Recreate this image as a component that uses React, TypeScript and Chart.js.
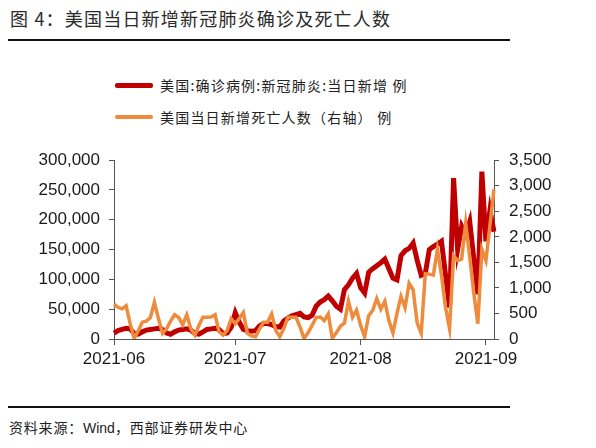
import React, { useEffect, useRef } from "react";
import { Chart, registerables } from "chart.js";

Chart.register(...registerables);

// Dates: 2021-06-01 .. 2021-09-03 (daily)
const dates: string[] = (() => {
  const out: string[] = [];
  const start = Date.UTC(2021, 5, 1);
  for (let i = 0; i < 95; i++) {
    out.push(new Date(start + i * 86400000).toISOString().slice(0, 10));
  }
  return out;
})();

const monthTicks = ["2021-06-01", "2021-07-01", "2021-08-01", "2021-09-01"];

// 美国:确诊病例:新冠肺炎:当日新增 (例), left axis
const newCases = [
  10000, 14000, 16000, 18000, 17000, 9000, 8000, 12000, 15000, 16000,
  17000, 18000, 16000, 10000, 8000, 12000, 15000, 16000, 17000, 15000,
  9000, 8000, 12000, 16000, 17000, 18000, 16000, 9000, 10000, 20000,
  44000, 28000, 16000, 14000, 13000, 14000, 22000, 26000, 26000, 24000,
  21000, 20000, 30000, 35000, 39000, 41000, 43000, 37000, 36000, 40000,
  55000, 62000, 66000, 72000, 64000, 55000, 50000, 83000, 91000, 102000,
  110000, 86000, 77000, 112000, 118000, 123000, 128000, 134000, 118000, 102000,
  99000, 140000, 148000, 152000, 161000, 132000, 107000, 110000, 150000, 155000,
  159000, 164000, 108000, 53000, 270000, 150000, 189000, 175000, 197000, 135000,
  75000, 281000, 164000, 216000, 180000,
];

// 美国当日新增死亡人数 (右轴)
const newDeaths = [
  680, 620, 590, 650, 300, 10, 160, 330, 350, 420,
  720, 400, 110, 200, 350, 475, 420, 280, 475, 200,
  75, 265, 425, 425, 430, 475, 140, 75, 170, 395,
  300, 400, 520, 110, 60, 45, 200, 330, 330, 490,
  170, 45, 200, 425, 425, 425, 240, 10, 120, 265,
  420, 430, 360, 490, 15, 120, 250, 310, 740, 425,
  565, 265, 45, 455, 560, 790, 585, 740, 360, 120,
  500, 835, 615, 1090, 965, 310, 110, 1280, 1270, 1250,
  1755, 1250, 615, 205, 1630, 1535, 1565, 2265, 1600, 900,
  300, 1755, 1535, 2230, 2930,
];

const seriesNames = ["美国:确诊病例:新冠肺炎:当日新增 例", "美国当日新增死亡人数（右轴） 例"];
const seriesColors = ["#C00000", "#EE8B3C"];

const fmt = (v: number) => String(Math.round(v)).replace(/\B(?=(\d{3})+(?!\d))/g, ",");

const TICK_FONT = { family: "'Liberation Sans', Arial, sans-serif", size: 17 };
const AXIS_COLOR = "#555555";

export default function App() {
  const ref = useRef<HTMLCanvasElement | null>(null);

  useEffect(() => {
    if (!ref.current) return;
    const chart = new Chart(ref.current, {
      type: "line",
      data: {
        labels: dates,
        datasets: [
          {
            label: seriesNames[0],
            data: newCases,
            borderColor: seriesColors[0],
            backgroundColor: seriesColors[0],
            borderWidth: 5,
            pointRadius: 0,
            tension: 0,
            yAxisID: "y",
            order: 2,
          },
          {
            label: seriesNames[1],
            data: newDeaths,
            borderColor: seriesColors[1],
            backgroundColor: seriesColors[1],
            borderWidth: 3.5,
            pointRadius: 0,
            tension: 0,
            yAxisID: "y1",
            order: 1,
          },
        ],
      },
      options: {
        animation: false,
        responsive: true,
        maintainAspectRatio: false,
        layout: { padding: { top: 15, left: 0, right: 0, bottom: 0 } },
        plugins: { legend: { display: false }, tooltip: { enabled: false }, title: { display: false } },
        scales: {
          x: {
            type: "category",
            offset: false,
            afterBuildTicks: (scale: any) => {
              scale.ticks = scale.ticks.filter((t: any) => monthTicks.includes(dates[t.value]));
            },
            afterFit: (scale: any) => {
              scale.height = 37;
            },
            ticks: {
              autoSkip: false,
              maxRotation: 0,
              minRotation: 0,
              padding: 4,
              color: "#1a1a1a",
              font: TICK_FONT,
              callback: function (this: any, value: any) {
                return String(this.getLabelForValue(value)).slice(0, 7);
              },
            },
            grid: { drawOnChartArea: false, drawTicks: true, tickLength: 6, color: AXIS_COLOR },
            border: { display: true, color: AXIS_COLOR, width: 1 },
          },
          y: {
            position: "left",
            min: 0,
            max: 300000,
            afterFit: (scale: any) => {
              scale.width = 114;
            },
            ticks: {
              stepSize: 50000,
              padding: 9,
              color: "#1a1a1a",
              font: TICK_FONT,
              callback: (v: any) => fmt(Number(v)),
            },
            grid: { drawOnChartArea: false, drawTicks: true, tickLength: 5, color: AXIS_COLOR },
            border: { display: true, color: AXIS_COLOR, width: 1 },
          },
          y1: {
            position: "right",
            min: 0,
            max: 3500,
            afterFit: (scale: any) => {
              scale.width = 102;
            },
            ticks: {
              stepSize: 500,
              padding: 10,
              color: "#1a1a1a",
              font: TICK_FONT,
              callback: (v: any) => fmt(Number(v)),
            },
            grid: { drawOnChartArea: false, drawTicks: true, tickLength: 5, color: AXIS_COLOR },
            border: { display: true, color: AXIS_COLOR, width: 1 },
          },
        },
      },
    });
    return () => chart.destroy();
  }, []);

  const cjk = "'Noto Sans CJK SC', 'Noto Sans', sans-serif";

  return (
    <div style={{ position: "absolute", left: 0, top: 0, width: 596, height: 448, background: "#fff", overflow: "hidden" }}>
      <div
        style={{
          position: "absolute",
          left: 10,
          top: 5,
          fontFamily: cjk,
          fontSize: 18,
          letterSpacing: 1.2,
          color: "#2b2b2b",
          lineHeight: "26px",
          whiteSpace: "nowrap",
        }}
      >
        图 4：美国当日新增新冠肺炎确诊及死亡人数
      </div>
      <div style={{ position: "absolute", left: 8, top: 39, width: 502, height: 2, background: "#111" }} />

      {[0, 1].map((k) => (
        <div key={k} style={{ position: "absolute", left: 115, top: k === 0 ? 74 : 106, height: 22, display: "flex", alignItems: "center" }}>
          <div style={{ width: 38, height: k === 0 ? 5 : 3.5, background: seriesColors[k], borderRadius: 2 }} />
          <span
            style={{
              marginLeft: 7,
              fontFamily: cjk,
              fontSize: 14,
              letterSpacing: 1.2,
              color: "#222",
              whiteSpace: "nowrap",
            }}
          >
            {seriesNames[k]}
          </span>
        </div>
      ))}

      <div style={{ position: "absolute", left: 0, top: 140, width: 596, height: 236 }}>
        <canvas ref={ref} />
      </div>

      <div style={{ position: "absolute", left: 8, top: 406, width: 502, height: 2, background: "#111" }} />
      <div
        style={{
          position: "absolute",
          left: 9,
          top: 416,
          fontFamily: cjk,
          fontSize: 14,
          letterSpacing: 0.8,
          color: "#222",
          lineHeight: "22px",
          whiteSpace: "nowrap",
        }}
      >
        资料来源：<span style={{ fontFamily: "'Liberation Sans', Arial, sans-serif", letterSpacing: 0 }}>Wind</span>，西部证券研发中心
      </div>
    </div>
  );
}
